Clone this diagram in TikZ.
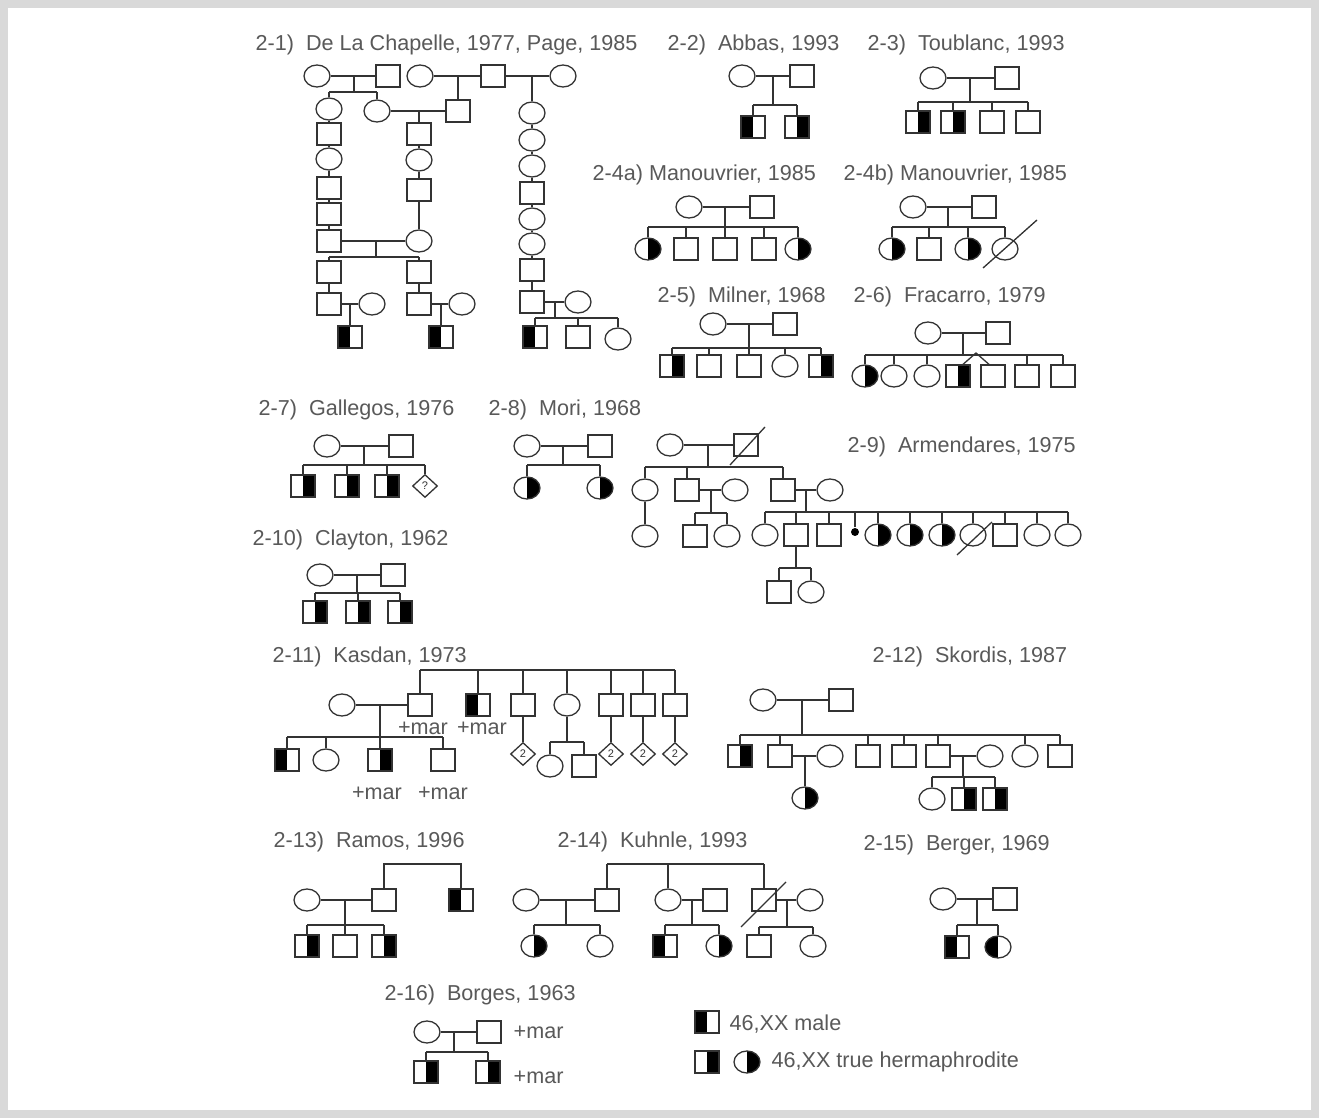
\documentclass[tikz,border=0pt]{standalone}
\usepackage{fontspec}
\usetikzlibrary{shapes.geometric,calc}
\newfontfamily\lsans{Liberation Sans}
\newcommand\pkids[5]{%
  \draw (#1) -- (#1 |- #2);
  \draw (#3.north |- #2) -- (#4.north |- #2);
  \foreach \c in {#5}{\draw (\c.north) -- (\c.north |- #2);}%
}
\tikzset{
  every node/.style={inner sep=0pt},
  sq/.style={rectangle, draw, minimum width=12pt, minimum height=11pt},
  ci/.style={ellipse, draw, minimum width=13pt, minimum height=11pt},
  lf/.style={path picture={\fill[black] (path picture bounding box.south west) rectangle (path picture bounding box.north);}},
  rf/.style={path picture={\fill[black] (path picture bounding box.south) rectangle (path picture bounding box.north east);}},
  dm/.style={diamond, draw, minimum width=12.5pt, minimum height=11.5pt, font=\lsans\fontsize{5.5}{6}\selectfont},
  blob/.style={circle, fill=black, minimum size=4pt},
  ttl/.style={anchor=west, text=black!65, font=\lsans\fontsize{10.8}{13}\selectfont},
  lbl/.style={text=black!65, font=\lsans\fontsize{10.8}{13}\selectfont},
}
\begin{document}
\begin{tikzpicture}[x=0.5pt,y=-0.5pt,line width=0.65pt,color=black!80]
\useasboundingbox (0,0) rectangle (1319,1118);
\fill[black!15] (0,0) rectangle (1319,1118);
\fill[white] (8,8) rectangle (1311,1110);

% ---------- 2-1 ----------
\node[ttl] (T21) at (255,45) {2-1)~ De La Chapelle, 1977, Page, 1985};
\node[ci] (a1) at (317,76) {};
\node[sq] (a2) at (388,76) {};
\node[ci] (a3) at (420,76) {};
\node[sq] (a4) at (493,76) {};
\node[ci] (a5) at (563,76) {};
\draw (a1)--(a2); \draw (a3)--(a4); \draw (a4)--(a5);
\node[ci] (b1) at (329,109) {};
\node[ci] (b2) at (377,111) {};
\node[sq] (b3) at (458,111) {};
\coordinate (d1a) at (354,76); \coordinate (s1a) at (0,92);
\pkids{d1a}{s1a}{b1}{b2}{b1,b2}
\draw (b3.north) -- (b3.north |- a3);
\draw (b2)--(b3);
\node[sq] (l1) at (329,134) {};
\node[ci] (l2) at (329,159) {};
\node[sq] (l3) at (329,188) {};
\node[sq] (l4) at (329,214) {};
\node[sq] (l5) at (329,241) {};
\draw (b1)--(l1); \draw (l1)--(l2); \draw (l2)--(l3); \draw (l3)--(l4); \draw (l4)--(l5);
\node[sq] (m1) at (419,134) {};
\node[ci] (m2) at (419,160) {};
\node[sq] (m3) at (419,190) {};
\node[ci] (m4) at (419,241) {};
\draw (m1.north) -- (m1.north |- b3);
\draw (m1)--(m2); \draw (m2)--(m3); \draw (m3)--(m4);
\draw (l5)--(m4);
\node[sq] (l6) at (329,272) {};
\node[sq] (m5) at (419,272) {};
\coordinate (d1b) at (376,241); \coordinate (s1b) at (0,257);
\pkids{d1b}{s1b}{l6}{m5}{l6,m5}
\node[sq] (l7) at (329,304) {};
\node[sq] (m6) at (419,304) {};
\draw (l6)--(l7); \draw (m5)--(m6);
\node[ci] (sp1) at (372,304) {};
\node[ci] (sp2) at (462,304) {};
\draw (l7)--(sp1); \draw (m6)--(sp2);
\node[sq,lf] (k1) at (350,337) {};
\node[sq,lf] (k2) at (441,337) {};
\draw (k1.north) -- (k1.north |- l7);
\draw (k2.north) -- (k2.north |- m6);
\node[ci] (r1) at (532,113) {};
\node[ci] (r2) at (532,140) {};
\node[ci] (r3) at (532,166) {};
\node[sq] (r4) at (532,193) {};
\node[ci] (r5) at (532,219) {};
\node[ci] (r6) at (532,244) {};
\node[sq] (r7) at (532,270) {};
\node[sq] (r8) at (532,302) {};
\draw (r1.north) -- (r1.north |- a4);
\draw (r1)--(r2); \draw (r2)--(r3); \draw (r3)--(r4); \draw (r4)--(r5);
\draw (r5)--(r6); \draw (r6)--(r7); \draw (r7)--(r8);
\node[ci] (sp3) at (578,302) {};
\draw (r8)--(sp3);
\node[sq,lf] (k3) at (535,337) {};
\node[sq] (k4) at (578,337) {};
\node[ci] (k5) at (618,339) {};
\coordinate (d1c) at (555,302); \coordinate (s1c) at (0,318);
\pkids{d1c}{s1c}{k3}{k5}{k3,k4,k5}

% ---------- 2-2 ----------
\node[ttl] (T22) at (667,45) {2-2)~ Abbas, 1993};
\node[ci] (F2m) at (742,76) {};
\node[sq] (F2f) at (802,76) {};
\draw (F2m)--(F2f);
\node[sq,lf] (F2c1) at (753,127) {};
\node[sq,rf] (F2c2) at (797,127) {};
\coordinate (F2d) at (773,76); \coordinate (F2s) at (0,105);
\pkids{F2d}{F2s}{F2c1}{F2c2}{F2c1,F2c2}

% ---------- 2-3 ----------
\node[ttl] (T23) at (867,45) {2-3)~ Toublanc, 1993};
\node[ci] (F3m) at (933,78) {};
\node[sq] (F3f) at (1007,78) {};
\draw (F3m)--(F3f);
\node[sq,rf] (F3c1) at (918,122) {};
\node[sq,rf] (F3c2) at (953,122) {};
\node[sq] (F3c3) at (992,122) {};
\node[sq] (F3c4) at (1028,122) {};
\coordinate (F3d) at (970,78); \coordinate (F3s) at (0,102);
\pkids{F3d}{F3s}{F3c1}{F3c4}{F3c1,F3c2,F3c3,F3c4}

% ---------- 2-4a ----------
\node[ttl] (T24a) at (592,175) {2-4a) Manouvrier, 1985};
\node[ci] (F4m) at (689,207) {};
\node[sq] (F4f) at (762,207) {};
\draw (F4m)--(F4f);
\node[ci,rf] (F4c1) at (648,249) {};
\node[sq] (F4c2) at (686,249) {};
\node[sq] (F4c3) at (725,249) {};
\node[sq] (F4c4) at (764,249) {};
\node[ci,rf] (F4c5) at (798,249) {};
\coordinate (F4d) at (725,207); \coordinate (F4s) at (0,227);
\pkids{F4d}{F4s}{F4c1}{F4c5}{F4c1,F4c2,F4c3,F4c4,F4c5}

% ---------- 2-4b ----------
\node[ttl] (T24b) at (843,175) {2-4b) Manouvrier, 1985};
\node[ci] (F5m) at (913,207) {};
\node[sq] (F5f) at (984,207) {};
\draw (F5m)--(F5f);
\node[ci,rf] (F5c1) at (892,249) {};
\node[sq] (F5c2) at (929,249) {};
\node[ci,rf] (F5c3) at (968,249) {};
\node[ci] (F5c4) at (1005,249) {};
\coordinate (F5d) at (948,207); \coordinate (F5s) at (0,227);
\pkids{F5d}{F5s}{F5c1}{F5c4}{F5c1,F5c2,F5c3,F5c4}
\draw (F5c4.center) ++(-22,19) -- ++(54,-48);

% ---------- 2-5 ----------
\node[ttl] (T25) at (657,297) {2-5)~ Milner, 1968};
\node[ci] (F6m) at (713,324) {};
\node[sq] (F6f) at (785,324) {};
\draw (F6m)--(F6f);
\node[sq,rf] (F6c1) at (672,366) {};
\node[sq] (F6c2) at (709,366) {};
\node[sq] (F6c3) at (749,366) {};
\node[ci] (F6c4) at (785,366) {};
\node[sq,rf] (F6c5) at (821,366) {};
\coordinate (F6d) at (749,324); \coordinate (F6s) at (0,348);
\pkids{F6d}{F6s}{F6c1}{F6c5}{F6c1,F6c2,F6c3,F6c4,F6c5}

% ---------- 2-6 ----------
\node[ttl] (T26) at (853,297) {2-6)~ Fracarro, 1979};
\node[ci] (F7m) at (928,333) {};
\node[sq] (F7f) at (998,333) {};
\draw (F7m)--(F7f);
\node[ci,rf] (F7c1) at (865,376) {};
\node[ci] (F7c2) at (894,376) {};
\node[ci] (F7c3) at (927,376) {};
\node[sq,rf] (F7c4) at (958,376) {};
\node[sq] (F7c5) at (993,376) {};
\node[sq] (F7c6) at (1027,376) {};
\node[sq] (F7c7) at (1063,376) {};
\coordinate (F7d) at (963,333); \coordinate (F7s) at (0,355);
\pkids{F7d}{F7s}{F7c1}{F7c7}{F7c1,F7c2,F7c3,F7c6,F7c7}
\coordinate (F7t) at (976,353);
\draw ($(F7c4.north)+(5,0)$) -- (F7t) -- ($(F7c5.north)+(-4,0)$);

% ---------- 2-7 ----------
\node[ttl] (T27) at (258,410) {2-7)~ Gallegos, 1976};
\node[ci] (F8m) at (327,446) {};
\node[sq] (F8f) at (401,446) {};
\draw (F8m)--(F8f);
\node[sq,rf] (F8c1) at (303,486) {};
\node[sq,rf] (F8c2) at (347,486) {};
\node[sq,rf] (F8c3) at (387,486) {};
\node[dm] (F8c4) at (425,486) {?};
\coordinate (F8d) at (364,446); \coordinate (F8s) at (0,465);
\pkids{F8d}{F8s}{F8c1}{F8c4}{F8c1,F8c2,F8c3,F8c4}

% ---------- 2-8 ----------
\node[ttl] (T28) at (488,410) {2-8)~ Mori, 1968};
\node[ci] (F9m) at (527,446) {};
\node[sq] (F9f) at (600,446) {};
\draw (F9m)--(F9f);
\node[ci,rf] (F9c1) at (527,488) {};
\node[ci,rf] (F9c2) at (600,488) {};
\coordinate (F9d) at (563,446); \coordinate (F9s) at (0,465);
\pkids{F9d}{F9s}{F9c1}{F9c2}{F9c1,F9c2}

% ---------- 2-9 ----------
\node[ttl] (T29) at (847,447) {2-9)~ Armendares, 1975};
\node[ci] (G1m) at (670,445) {};
\node[sq] (G1f) at (746,445) {};
\draw (G1m)--(G1f);
\draw (G1f.center) ++(-16,20) -- ++(35,-38);
\node[ci] (G1c1) at (645,490) {};
\node[sq] (G1c2) at (687,490) {};
\node[ci] (G1w1) at (735,490) {};
\node[sq] (G1c4) at (783,490) {};
\node[ci] (G1w2) at (830,490) {};
\coordinate (G1d) at (708,445); \coordinate (G1s) at (0,467);
\pkids{G1d}{G1s}{G1c1}{G1c4}{G1c1,G1c2,G1c4}
\draw (G1c2)--(G1w1); \draw (G1c4)--(G1w2);
\node[ci] (G2a) at (645,536) {};
\draw (G1c1)--(G2a);
\node[sq] (G2b) at (695,536) {};
\node[ci] (G2c) at (727,536) {};
\coordinate (G2d) at (711,490); \coordinate (G2s) at (0,513);
\pkids{G2d}{G2s}{G2b}{G2c}{G2b,G2c}
\node[ci] (G3c1) at (765,535) {};
\node[sq] (G3c2) at (796,535) {};
\node[sq] (G3c3) at (829,535) {};
\node[blob] (G3c4) at (855,532) {};
\node[ci,rf] (G3c5) at (878,535) {};
\node[ci,rf] (G3c6) at (910,535) {};
\node[ci,rf] (G3c7) at (942,535) {};
\node[ci] (G3c8) at (973,535) {};
\node[sq] (G3c9) at (1005,535) {};
\node[ci] (G3c10) at (1037,535) {};
\node[ci] (G3c11) at (1068,535) {};
\coordinate (G3d) at (806,490); \coordinate (G3s) at (0,512);
\pkids{G3d}{G3s}{G3c1}{G3c11}{G3c1,G3c2,G3c3,G3c4,G3c5,G3c6,G3c7,G3c8,G3c9,G3c10,G3c11}
\draw (G3c8.center) ++(-16,20) -- ++(35,-33);
\node[sq] (G4a) at (779,592) {};
\node[ci] (G4b) at (811,592) {};
\coordinate (G4s) at (0,568);
\pkids{G3c2.south}{G4s}{G4a}{G4b}{G4a,G4b}

% ---------- 2-10 ----------
\node[ttl] (T210) at (252,540) {2-10)~ Clayton, 1962};
\node[ci] (H1m) at (320,575) {};
\node[sq] (H1f) at (393,575) {};
\draw (H1m)--(H1f);
\node[sq,rf] (H1c1) at (315,612) {};
\node[sq,rf] (H1c2) at (358,612) {};
\node[sq,rf] (H1c3) at (400,612) {};
\coordinate (H1d) at (357,575); \coordinate (H1s) at (0,593);
\pkids{H1d}{H1s}{H1c1}{H1c3}{H1c1,H1c2,H1c3}

% ---------- 2-11 ----------
\node[ttl] (T211) at (272,657) {2-11)~ Kasdan, 1973};
\node[ci] (K1) at (342,705) {};
\node[sq] (K2) at (420,705) {};
\node[sq,lf] (K3) at (478,705) {};
\node[sq] (K4) at (523,705) {};
\node[ci] (K5) at (567,705) {};
\node[sq] (K6) at (611,705) {};
\node[sq] (K7) at (643,705) {};
\node[sq] (K8) at (675,705) {};
\coordinate (Ks) at (0,670);
\draw (K2.north |- Ks) -- (K8.north |- Ks);
\foreach \c in {K2,K3,K4,K5,K6,K7,K8}{\draw (\c.north) -- (\c.north |- Ks);}
\node[lbl] (Km1) at (423,728) {+mar};
\node[lbl] (Km2) at (482,728) {+mar};
\draw (K1)--(K2);
\node[sq,lf] (L1) at (287,760) {};
\node[ci] (L2) at (326,760) {};
\node[sq,rf] (L3) at (380,760) {};
\node[sq] (L4) at (443,760) {};
\coordinate (Kd) at (380,705); \coordinate (Ks2) at (0,737);
\pkids{Kd}{Ks2}{L1}{L4}{L1,L2,L3,L4}
\node[lbl] (Lm1) at (377,793) {+mar};
\node[lbl] (Lm2) at (443,793) {+mar};
\node[dm] (M1) at (523,754) {2};
\draw (K4)--(M1);
\node[ci] (M2) at (550,766) {};
\node[sq] (M3) at (584,766) {};
\coordinate (Ks3) at (0,742);
\pkids{K5.south}{Ks3}{M2}{M3}{M2,M3}
\node[dm] (M4) at (611,754) {2};
\node[dm] (M5) at (643,754) {2};
\node[dm] (M6) at (675,754) {2};
\draw (K6)--(M4); \draw (K7)--(M5); \draw (K8)--(M6);

% ---------- 2-12 ----------
\node[ttl] (T212) at (872,657) {2-12)~ Skordis, 1987};
\node[ci] (N1) at (763,700) {};
\node[sq] (N2) at (841,700) {};
\draw (N1)--(N2);
\node[sq,rf] (N3) at (740,756) {};
\node[sq] (N4) at (780,756) {};
\node[ci] (N5) at (830,756) {};
\node[sq] (N6) at (868,756) {};
\node[sq] (N7) at (904,756) {};
\node[sq] (N8) at (938,756) {};
\node[ci] (N9) at (990,756) {};
\node[ci] (N10) at (1025,756) {};
\node[sq] (N11) at (1060,756) {};
\coordinate (Nd) at (802,700); \coordinate (Ns) at (0,735);
\pkids{Nd}{Ns}{N3}{N11}{N3,N4,N6,N7,N8,N10,N11}
\draw (N4)--(N5); \draw (N8)--(N9);
\node[ci,rf] (N12) at (805,798) {};
\draw (N12.north) -- (N12.north |- N4);
\node[ci] (N13) at (932,799) {};
\node[sq,rf] (N14) at (964,799) {};
\node[sq,rf] (N15) at (995,799) {};
\coordinate (Nd2) at (963,756); \coordinate (Ns2) at (0,777);
\pkids{Nd2}{Ns2}{N13}{N15}{N13,N14,N15}

% ---------- 2-13 ----------
\node[ttl] (T213) at (273,842) {2-13)~ Ramos, 1996};
\node[ci] (O1) at (307,900) {};
\node[sq] (O2) at (384,900) {};
\node[sq,lf] (O3) at (461,900) {};
\coordinate (Os) at (0,864);
\draw (O2.north) -- (O2.north |- Os) -- (O3.north |- Os) -- (O3.north);
\draw (O1)--(O2);
\node[sq,rf] (O4) at (307,946) {};
\node[sq] (O5) at (345,946) {};
\node[sq,rf] (O6) at (384,946) {};
\coordinate (Od) at (345,900); \coordinate (Os2) at (0,925);
\pkids{Od}{Os2}{O4}{O6}{O4,O5,O6}

% ---------- 2-14 ----------
\node[ttl] (T214) at (557,842) {2-14)~ Kuhnle, 1993};
\node[ci] (P1) at (526,900) {};
\node[sq] (P2) at (607,900) {};
\node[ci] (P3) at (668,900) {};
\node[sq] (P4) at (715,900) {};
\node[sq] (P5) at (764,900) {};
\node[ci] (P6) at (810,900) {};
\coordinate (Ps) at (0,864);
\draw (P2.north |- Ps) -- (P5.north |- Ps);
\foreach \c in {P2,P3,P5}{\draw (\c.north) -- (\c.north |- Ps);}
\draw (P1)--(P2); \draw (P3)--(P4); \draw (P5)--(P6);
\draw (P5.center) ++(-23,27) -- ++(45,-45);
\node[ci,rf] (Q1) at (534,946) {};
\node[ci] (Q2) at (600,946) {};
\coordinate (Pd1) at (566,900); \coordinate (Ps1) at (0,925);
\pkids{Pd1}{Ps1}{Q1}{Q2}{Q1,Q2}
\node[sq,lf] (Q3) at (665,946) {};
\node[ci,rf] (Q4) at (719,946) {};
\coordinate (Pd2) at (692,900);
\pkids{Pd2}{Ps1}{Q3}{Q4}{Q3,Q4}
\node[sq] (Q5) at (759,946) {};
\node[ci] (Q6) at (813,946) {};
\coordinate (Pd3) at (787,900); \coordinate (Ps3) at (0,927);
\pkids{Pd3}{Ps3}{Q5}{Q6}{Q5,Q6}

% ---------- 2-15 ----------
\node[ttl] (T215) at (863,845) {2-15)~ Berger, 1969};
\node[ci] (R1) at (943,899) {};
\node[sq] (R2) at (1005,899) {};
\draw (R1)--(R2);
\node[sq,lf] (R3) at (957,947) {};
\node[ci,lf] (R4) at (998,947) {};
\coordinate (Rd) at (977,899); \coordinate (Rs) at (0,925);
\pkids{Rd}{Rs}{R3}{R4}{R3,R4}

% ---------- 2-16 ----------
\node[ttl] (T216) at (384,995) {2-16)~ Borges, 1963};
\node[ci] (U1) at (427,1032) {};
\node[sq] (U2) at (489,1032) {};
\draw (U1)--(U2);
\node[lbl,anchor=west] (Um1) at (513,1032) {+mar};
\node[sq,rf] (U3) at (426,1072) {};
\node[sq,rf] (U4) at (488,1072) {};
\coordinate (Ud) at (454,1032); \coordinate (Us) at (0,1052);
\pkids{Ud}{Us}{U3}{U4}{U3,U4}
\node[lbl,anchor=west] (Um2) at (513,1077) {+mar};

% ---------- legend ----------
\node[sq,lf] (V1) at (707,1022) {};
\node[lbl,anchor=west] (Vt1) at (729,1024) {46,XX male};
\node[sq,rf] (V2) at (707,1062) {};
\node[ci,rf] (V3) at (747,1062) {};
\node[lbl,anchor=west] (Vt2) at (771,1062) {46,XX true hermaphrodite};
\end{tikzpicture}
\end{document}
